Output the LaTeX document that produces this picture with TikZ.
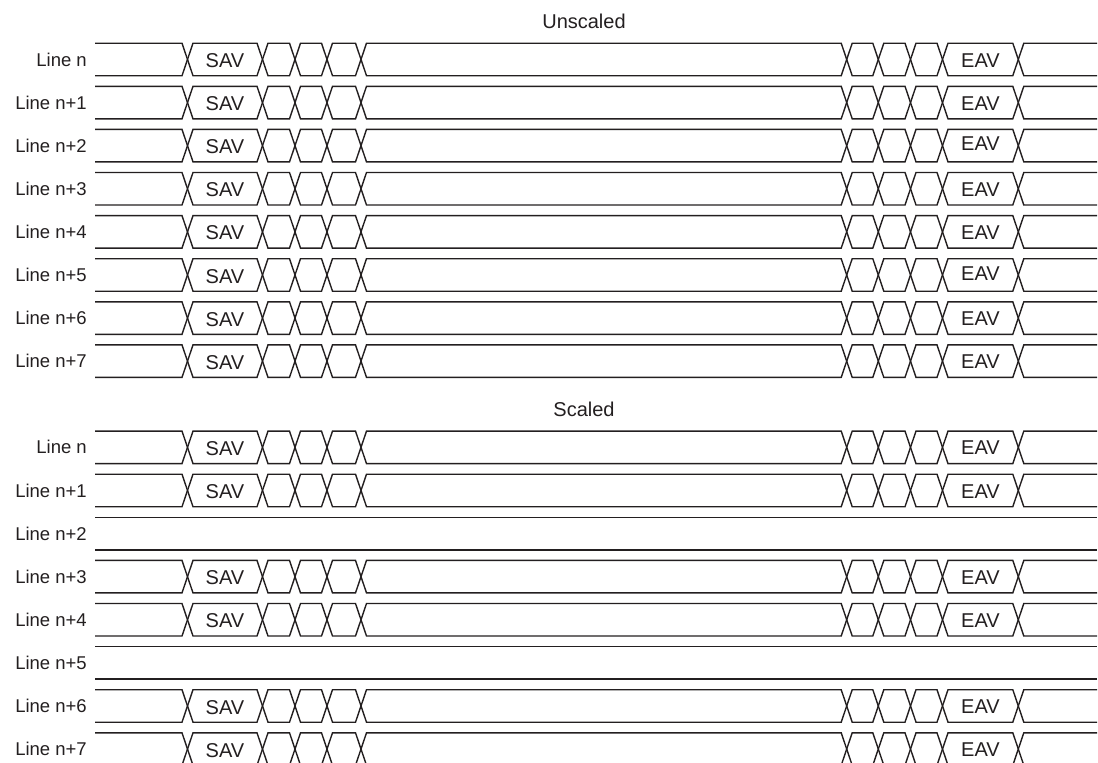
\documentclass[tikz,border=0pt]{standalone}
\usepackage{fontspec}
\setmainfont{Liberation Sans}
\usepackage{xcolor}
\usepackage{tikz}
\usetikzlibrary{positioning}
\definecolor{ink}{HTML}{231F20}

\begin{document}
\begin{tikzpicture}[
  x=1pt, y=-1pt,
  every node/.style={text=ink, inner sep=0pt},
  lbl/.style={anchor=east, font=\fontsize{18.5}{18.5}\selectfont},
  word/.style={font=\fontsize{20}{20}\selectfont},
  heading/.style={font=\fontsize{20}{20}\selectfont},
  sig/.style={draw=ink, line width=1.4pt},
]
\useasboundingbox (0,0) rectangle (1098,763);

\node[heading] (unscaled) at (584,21.5) {Unscaled};
\node[heading] (scaled)   at (584,409)  {Scaled};

\foreach \k in {0,...,7,9,10,...,16} {
  \pgfmathsetmacro\yt{43.2+43.1*\k}
  \pgfmathtruncatemacro\j{\k<8 ? \k : \k-9}
  \pgfmathsetmacro\ey{(\k==2 || \k==5) ? 14.5 : 17}
  \node[lbl] (line\k) at (87,\yt+16.25) {Line n\ifnum\j>0 +\j\fi};
  \ifnum\k=11 \def\full{0}\else\ifnum\k=14 \def\full{0}\else\def\full{1}\fi\fi
  \ifnum\full=1
    \draw[sig] (95,\yt) \foreach \t [count=\i] in {187.5,262.5,295,327,361,846.7,878.3,910.5,942.5,1018.3}
      { -- (\t-5.5,{\yt+32.5*mod(\i-1,2)}) -- (\t+5.5,{\yt+32.5*mod(\i,2)}) } -- (1097,\yt);
    \draw[sig] (95,\yt+32.5) \foreach \t [count=\i] in {187.5,262.5,295,327,361,846.7,878.3,910.5,942.5,1018.3}
      { -- (\t-5.5,{\yt+32.5*mod(\i,2)}) -- (\t+5.5,{\yt+32.5*mod(\i-1,2)}) } -- (1097,\yt+32.5);
    \node[word] (sav\k) at (225,\yt+17.5) {SAV};
    \node[word] (eav\k) at (980.5,\yt+\ey) {EAV};
  \else
    \draw[sig] (95,\yt) -- (1097,\yt) (95,\yt+32.5) -- (1097,\yt+32.5);
  \fi
}
\end{tikzpicture}
\end{document}
